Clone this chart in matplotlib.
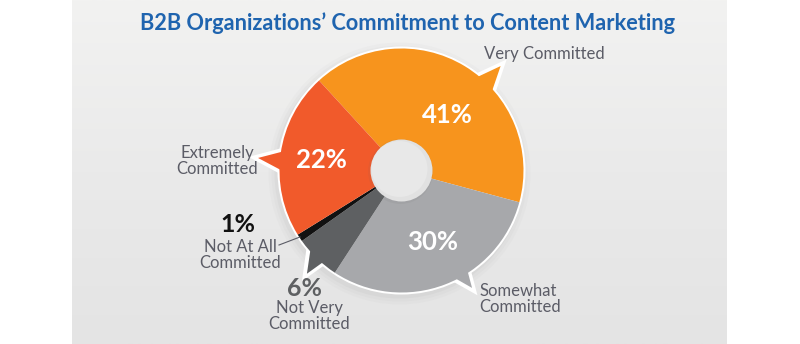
import numpy as np
import matplotlib
matplotlib.use("Agg")
import matplotlib.pyplot as plt
from matplotlib.patches import Polygon, Circle

# data
categories = ["Very Committed", "Somewhat Committed", "Not Very Committed",
              "Not At All Committed", "Extremely Committed"]
values = [41, 30, 6, 1, 22]
pct_labels = ["41%", "30%", "6%", "1%", "22%"]
colors = ["#F7941D", "#A7A8AB", "#5E6062", "#111111", "#F15A2B"]
title = "B2B Organizations\u2019 Commitment to Content Marketing"

W, H = 800, 344
CX, CY = 401.5, H - 170.5
R = 122
R_HOLE = 31
TEXT = "#5B5C66"
FONT = "Lato"
LBL = 12

fig = plt.figure(figsize=(8, 3.44), dpi=100)
ax = fig.add_axes([0, 0, 1, 1])

# grey panel with soft vertical gradient
grad = np.linspace(0, 1, 256).reshape(-1, 1)
ax.imshow(grad, cmap=matplotlib.colors.LinearSegmentedColormap.from_list(
    "bg", ["#E4E4E4", "#EAEAEA", "#F2F2F1"]), extent=(72, 727, 0, H),
    aspect="auto", origin="lower", zorder=0)


def pt(r, a):
    t = np.radians(a)
    return CX + r * np.cos(t), CY + r * np.sin(t)


# drop shadow
for dr, al in [(9, 0.03), (6, 0.04), (3, 0.06)]:
    ax.add_patch(Circle((CX - 2, CY - 3), R + dr, color="#808080", alpha=al,
                        lw=0, zorder=1))

# speech-bubble tails: (base angle a, base angle b, tip angle, tip radius)
tails = {0: (52, 40, 46.5, 144), 4: (170, 181, 175, 144),
         2: (219, 230, 227.5, 140), 1: (-56, -65, -59, 137)}
for i, (a1, a2, at, rt) in tails.items():
    ax.add_patch(Polygon([pt(R - 4, a1), pt(rt + 2, at), pt(R - 4, a2)],
                         closed=True, fc="white", ec="white", lw=4, zorder=2,
                         joinstyle="miter"))

# white rim
ax.add_patch(Circle((CX, CY), R + 2, fc="white", ec="none", zorder=2))

wedges, _ = ax.pie(values, colors=colors, startangle=132.5,
                   counterclock=False, center=(CX, CY), radius=R,
                   wedgeprops=dict(linewidth=0), frame=True)
for w in wedges:
    w.set_zorder(3)

for i, (a1, a2, at, rt) in tails.items():
    ax.add_patch(Polygon([pt(R - 6, a1), pt(rt, at), pt(R - 6, a2)],
                         closed=True, fc=colors[i], ec="none", zorder=3))

# centre hole
ax.add_patch(Circle((CX - 1, CY - 1), R_HOLE + 1.5, color="#666666",
                    alpha=0.08, lw=0, zorder=4))
ax.add_patch(Circle((CX, CY), R_HOLE, fc="#E1E1E1", ec="none", zorder=4))
ax.add_patch(Circle((CX - 2, CY + 1.5), R_HOLE - 3, fc="#E8E8E8", ec="none",
                    zorder=4))

# percentages on slices
inside = {0: (447, 115), 1: (433, 242), 4: (321, 160)}
for i, (x, y) in inside.items():
    ax.text(x, H - y, pct_labels[i], color="white", fontsize=18.5,
            fontweight="bold", family=FONT, ha="center", va="center",
            zorder=6)

# outside labels
ax.text(544, H - 54, "Very Committed", color=TEXT, fontsize=LBL, family=FONT,
        ha="center", va="center")
ax.text(217, H - 161, "Extremely\nCommitted", color=TEXT, fontsize=LBL,
        family=FONT, ha="center", va="center", linespacing=0.98)
ax.text(479, H - 299, "Somewhat\nCommitted", color=TEXT, fontsize=LBL,
        family=FONT, ha="left", va="center", linespacing=0.98)
ax.text(238, H - 224, pct_labels[3], color="#111111", fontsize=18,
        fontweight="bold", family=FONT, ha="center", va="center")
ax.text(240, H - 255, "Not At All\nCommitted", color=TEXT, fontsize=LBL,
        family=FONT, ha="center", va="center", linespacing=0.98)
ax.plot([279, 300], [H - 245, H - 237], color=TEXT, lw=0.8, zorder=5)
ax.text(305, H - 289, pct_labels[2], color="#5E6062", fontsize=18,
        fontweight="bold", family=FONT, ha="center", va="center")
ax.text(309, H - 316, "Not Very\nCommitted", color=TEXT, fontsize=LBL,
        family=FONT, ha="center", va="center", linespacing=0.98)

ax.text(408, H - 23, title, color="#1F64AF", fontsize=15.7,
        fontweight="bold", family=FONT, ha="center", va="center")

ax.set_xlim(0, W)
ax.set_ylim(0, H)
ax.set_aspect("equal")
ax.axis("off")

fig.savefig("out.png", dpi=100)
